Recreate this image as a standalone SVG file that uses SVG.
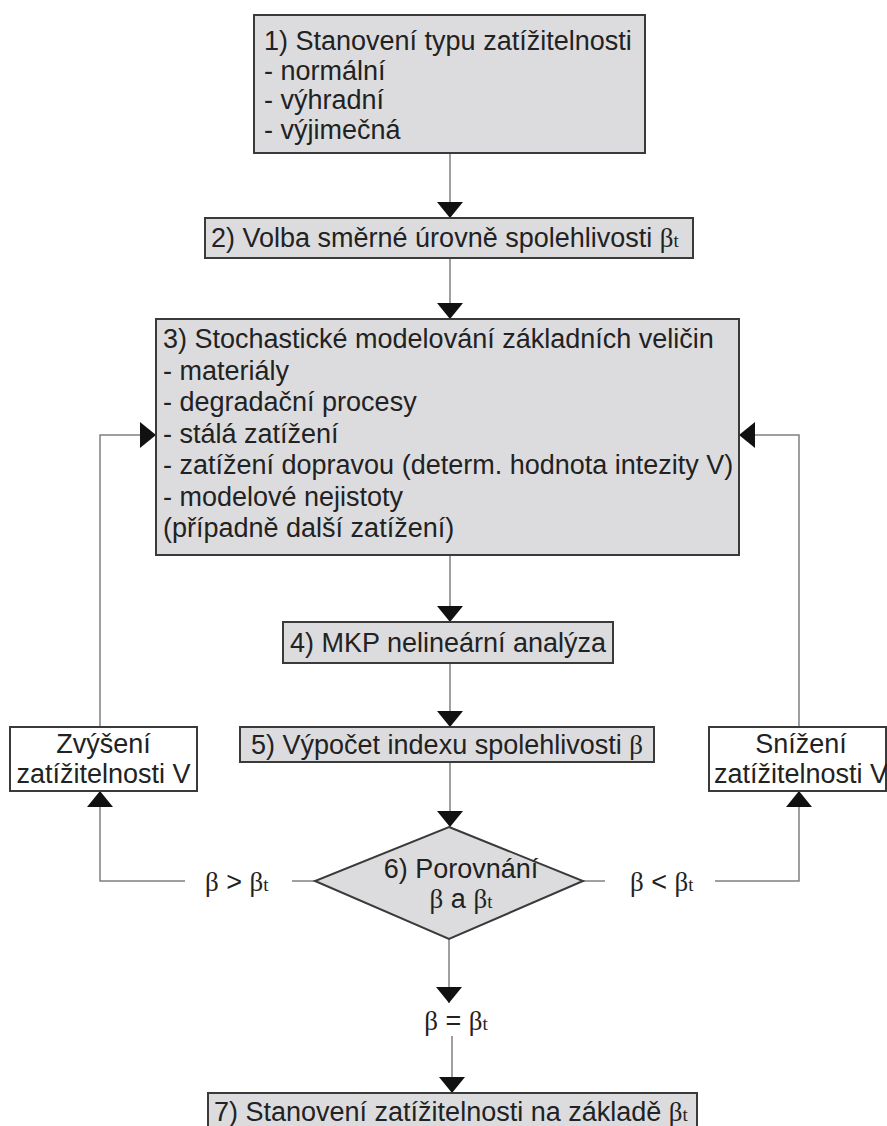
<svg xmlns="http://www.w3.org/2000/svg" width="887" height="1126" viewBox="0 0 887 1126">
<defs>
<style>
.box{fill:#dcdcdf;stroke:#3a3a3a;stroke-width:2}
.wbox{fill:#ffffff;stroke:#3a3a3a;stroke-width:2}
.t{font-family:"Liberation Sans",Arial,sans-serif;font-size:27px;fill:#222}
.c{text-anchor:middle}
.b{font-family:"Liberation Serif","Times New Roman",serif}
.sub{font-size:19px}
.ln{stroke:#808080;stroke-width:1.5;fill:none}
</style>
<marker id="arr" viewBox="0 0 16 26" refX="16" refY="13" markerWidth="16" markerHeight="26" markerUnits="userSpaceOnUse" orient="auto">
<path d="M0,0 L16,13 L0,26 z" fill="#111"/>
</marker>
</defs>
<rect width="887" height="1126" fill="#fff"/>

<g id="connectors">
<path class="ln" d="M450,153 V218" marker-end="url(#arr)"/>
<path class="ln" d="M450,258 V319" marker-end="url(#arr)"/>
<path class="ln" d="M450,555 V622" marker-end="url(#arr)"/>
<path class="ln" d="M450,663 V727" marker-end="url(#arr)"/>
<path class="ln" d="M450,762 V827" marker-end="url(#arr)"/>
<path class="ln" d="M449,939 V1003" marker-end="url(#arr)"/>
<path class="ln" d="M452,1036 V1093" marker-end="url(#arr)"/>
<path class="ln" d="M315,881 H292"/>
<path class="ln" d="M185,881 H100 V791" marker-end="url(#arr)"/>
<path class="ln" d="M100,727 V435 H156" marker-end="url(#arr)"/>
<path class="ln" d="M583,881 H605"/>
<path class="ln" d="M715,881 H799 V791" marker-end="url(#arr)"/>
<path class="ln" d="M799,727 V435 H739" marker-end="url(#arr)"/>
</g>

<g id="n1">
<rect class="box" x="254" y="15" width="391" height="138"/>
<text class="t" x="264" y="50">1) Stanovení typu zatížitelnosti</text>
<text class="t" x="264" y="79.5">- normální</text>
<text class="t" x="264" y="109">- výhradní</text>
<text class="t" x="264" y="138.5">- výjimečná</text>
</g>

<g id="n2">
<rect class="box" x="205" y="218" width="488" height="40"/>
<text class="t" x="211" y="247">2) Volba směrné úrovně spolehlivosti <tspan class="b">β</tspan><tspan class="b sub">t</tspan></text>
</g>

<g id="n3">
<rect class="box" x="156" y="319" width="583" height="236"/>
<text class="t" x="163" y="348">3) Stochastické modelování základních veličin</text>
<text class="t" x="163" y="379.5">- materiály</text>
<text class="t" x="163" y="411">- degradační procesy</text>
<text class="t" x="163" y="442.5">- stálá zatížení</text>
<text class="t" x="163" y="474">- zatížení dopravou (determ. hodnota intezity V)</text>
<text class="t" x="163" y="505.5">- modelové nejistoty</text>
<text class="t" x="163" y="537">(případně další zatížení)</text>
</g>

<g id="n4">
<rect class="box" x="283" y="622" width="330" height="41"/>
<text class="t c" x="448" y="652">4) MKP nelineární analýza</text>
</g>

<g id="n5">
<rect class="box" x="240" y="727" width="414" height="35"/>
<text class="t c" x="447" y="754">5) Výpočet indexu spolehlivosti <tspan class="b">β</tspan></text>
</g>

<g id="nUp">
<rect class="wbox" x="10" y="727" width="187" height="64"/>
<text class="t c" x="103.5" y="753">Zvýšení</text>
<text class="t c" x="103.5" y="783">zatížitelnosti V</text>
</g>

<g id="nDown">
<rect class="wbox" x="709" y="727" width="177" height="64"/>
<text class="t c" x="801" y="753">Snížení</text>
<text class="t c" x="801" y="783">zatížitelnosti V</text>
</g>

<g id="n6">
<polygon class="box" points="449,827 583,881 449,939 315,881"/>
<text class="t c" x="461" y="878">6) Porovnání</text>
<text class="t c" x="461" y="908"><tspan class="b">β</tspan> a <tspan class="b">β</tspan><tspan class="b sub">t</tspan></text>
</g>

<g id="lblGt">
<text class="t" x="205" y="891"><tspan class="b">β</tspan> &gt; <tspan class="b">β</tspan><tspan class="b sub">t</tspan></text>
</g>
<g id="lblLt">
<text class="t" x="630" y="891"><tspan class="b">β</tspan> &lt; <tspan class="b">β</tspan><tspan class="b sub">t</tspan></text>
</g>
<g id="lblEq">
<text class="t c" x="456" y="1030"><tspan class="b">β</tspan> = <tspan class="b">β</tspan><tspan class="b sub">t</tspan></text>
</g>

<g id="n7">
<rect class="box" x="208" y="1093" width="489" height="45"/>
<text class="t" x="214" y="1121">7) Stanovení zatížitelnosti na základě <tspan class="b">β</tspan><tspan class="b sub">t</tspan></text>
</g>
</svg>
